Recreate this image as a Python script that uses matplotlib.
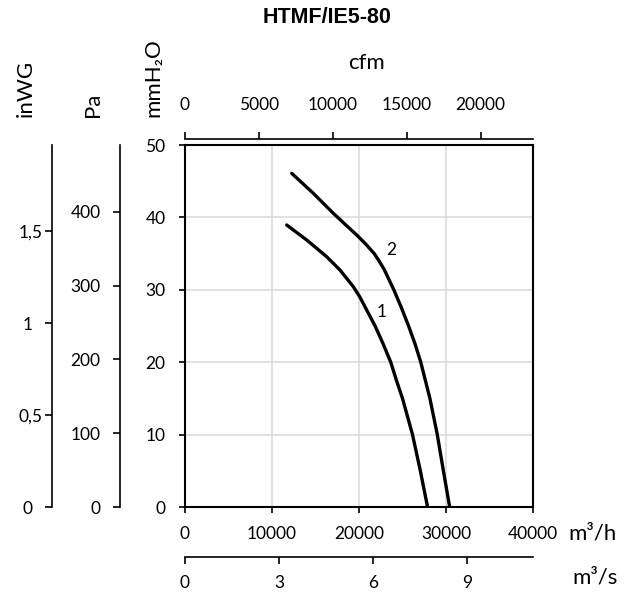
import numpy as np
import matplotlib
matplotlib.use("Agg")
import matplotlib.pyplot as plt

"""
DATA
"""
title = "HTMF/IE5-80"

#curve 1 [m3/h], [mmH2O]
q1 = [11690, 13989, 16287, 17816, 19345, 20100, 21850, 22750, 23650,
      24300, 25000, 26150, 27050, 27880]
p1 = [38.95, 36.88, 34.57, 32.73, 30.43, 29.0, 25.0, 22.6, 20.0,
      17.5, 15.0, 10.0, 5.0, 0.0]

#curve 2
q2 = [12264, 14747, 17046, 18400, 19736, 20750, 21750, 22300, 22900,
      24000, 24850, 25700, 26450, 27100, 28150, 29000, 29700, 30420]
p2 = [46.09, 43.33, 40.57, 39.05, 37.57, 36.35, 35.0, 34.0, 32.8,
      30.0, 27.6, 25.0, 22.5, 20.0, 15.0, 10.0, 5.0, 0.0]

curve_names = ["1", "2"]
label_pos = [(22610, 26.98), (23760, 35.5)]

m3h_ticks = [0, 10000, 20000, 30000, 40000]
m3s_ticks = [0, 3, 6, 9]
cfm_ticks = [0, 5000, 10000, 15000, 20000]
mm_ticks = [0, 10, 20, 30, 40, 50]
pa_ticks = [0, 100, 200, 300, 400]
inwg_ticks = [0, 0.5, 1, 1.5]

#unit conversions
PA_PER_MM = 9.80665
PA_PER_INWG = 249.089
M3H_PER_CFM = 1.699

"""
PLOT
"""
W, H = 630, 593
plt.rcParams['font.family'] = ['Lato', 'DejaVu Sans']
fs_tick = 12.5
fs_lab = 16
black = "black"

fig = plt.figure(figsize=(W/100, H/100), dpi=100)
#main plot box, px: left 185, right 533, top 145, bottom 507
x0, x1, y0, y1 = 185, 533, 145, 507
ax = fig.add_axes([x0/W, 1-y1/H, (x1-x0)/W, (y1-y0)/H])
ax.set_xlim(0, 40000)
ax.set_ylim(0, 50)
ax.grid(True, color="#d9d9d9", lw=1.1)
ax.set_axisbelow(True)
for s in ax.spines.values():
    s.set_linewidth(1.5)
    s.set_color(black)

ax.plot(q1, p1, color=black, lw=2.4, solid_capstyle='round',
        solid_joinstyle='round')
ax.plot(q2, p2, color=black, lw=2.4, solid_capstyle='round',
        solid_joinstyle='round')
for name, (lx, ly) in zip(curve_names, label_pos):
    ax.text(lx, ly, name, fontsize=fs_tick, ha='center', va='center')

ax.set_xticks(m3h_ticks)
ax.set_xticklabels([str(t) for t in m3h_ticks])
ax.set_yticks(mm_ticks)
ax.tick_params(axis='x', direction='out', length=4, width=1.2,
               labelsize=fs_tick, pad=10)
ax.tick_params(axis='y', direction='out', length=4, width=1.2,
               labelsize=fs_tick, pad=10)

#px -> axes fraction
def fx(px):
    return (px - x0)/(x1 - x0)
def fy(py):
    return (y1 - py)/(y1 - y0)

#second bottom axis: m3/s
sec_s = ax.secondary_xaxis(fy(557), functions=(lambda x: x/3600.0,
                                                 lambda x: x*3600.0))
sec_s.set_xticks(m3s_ticks)
sec_s.set_xticklabels([str(t) for t in m3s_ticks])
sec_s.tick_params(direction='out', length=5, width=1.2, labelsize=fs_tick,
                  pad=8)
sec_s.spines['bottom'].set_linewidth(1.2)

#top axis: cfm
sec_c = ax.secondary_xaxis(fy(139), functions=(lambda x: x/M3H_PER_CFM,
                                                 lambda x: x*M3H_PER_CFM))
sec_c.set_xticks(cfm_ticks)
sec_c.set_xticklabels([str(t) for t in cfm_ticks])
sec_c.tick_params(direction='out', length=5, width=1.2, labelsize=fs_tick,
                  pad=14)
sec_c.spines['top'].set_linewidth(1.2)

#left axes: Pa and inWG
sec_pa = ax.secondary_yaxis(fx(120), functions=(lambda y: y*PA_PER_MM,
                                                  lambda y: y/PA_PER_MM))
sec_pa.set_yticks(pa_ticks)
sec_pa.set_yticklabels([str(t) for t in pa_ticks])
sec_pa.tick_params(direction='out', length=5, width=1.2, labelsize=fs_tick,
                   pad=9)
sec_pa.spines['left'].set_linewidth(1.2)

sec_in = ax.secondary_yaxis(fx(52), functions=(
    lambda y: y*PA_PER_MM/PA_PER_INWG, lambda y: y*PA_PER_INWG/PA_PER_MM))
sec_in.set_yticks(inwg_ticks)
#integers get a trailing figure space, like the original layout
sec_in.set_yticklabels([("%g" % t).replace(".", ",") if t % 1
                        else "%d\u2007" % t for t in inwg_ticks])
sec_in.tick_params(direction='out', length=5, width=1.2, labelsize=fs_tick,
                   pad=1.5)
sec_in.spines['left'].set_linewidth(1.2)

"""
TEXTS
"""
fig.text(327.5/W, 1-17.5/H, title, fontsize=15.5, fontweight='bold',
         family='Liberation Sans', ha='center', va='center')
fig.text(366.7/W, 1-63/H, "cfm", fontsize=fs_lab, ha='center', va='center')
fig.text(593/W, 1-533/H, "m³/h", fontsize=fs_lab, ha='center', va='center')
fig.text(595/W, 1-577/H, "m³/s", fontsize=fs_lab, ha='center', va='center')
fig.text(26/W, 1-117/H, "inWG", fontsize=fs_lab, rotation=90,
         ha='center', va='bottom')
fig.text(93/W, 1-117/H, "Pa", fontsize=fs_lab, rotation=90,
         ha='center', va='bottom')
fig.text(153/W, 1-117/H, "mmH\u2082O", fontsize=fs_lab, rotation=90,
         ha='center', va='bottom')

fig.savefig("out.png", dpi=100)
